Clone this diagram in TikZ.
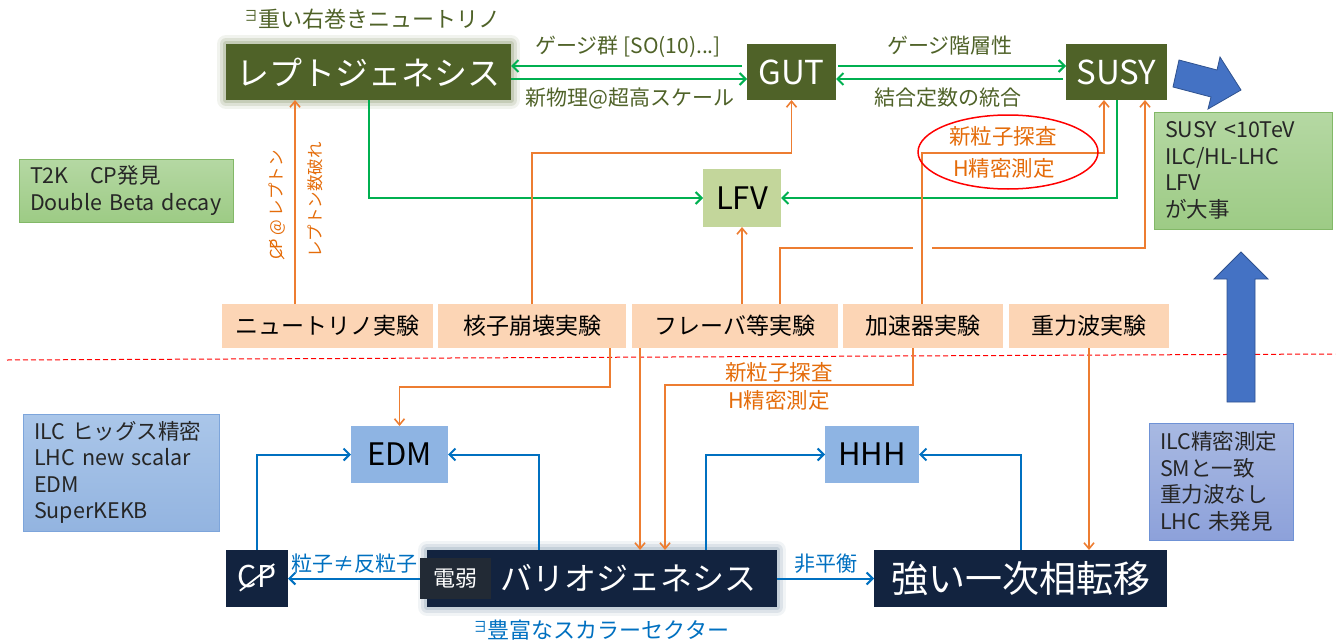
\documentclass[tikz,border=0pt]{standalone}
\usepackage{fontspec}
\setmainfont{Noto Sans CJK JP}
\usepackage{graphicx}
\usetikzlibrary{arrows.meta,shapes.geometric}

\definecolor{cOlive}{HTML}{4F6228}
\definecolor{cOliveGlow}{HTML}{8E9A72}
\definecolor{cGreen}{HTML}{00B050}
\definecolor{cLFV}{HTML}{C3D69B}
\definecolor{cOrange}{HTML}{ED7D31}
\definecolor{cOrangeT}{HTML}{E46C0A}
\definecolor{cPeach}{HTML}{FCD5B5}
\definecolor{cEDM}{HTML}{8EB4E3}
\definecolor{cNavy}{HTML}{12233F}
\definecolor{cNavyGlow}{HTML}{8DA2B4}
\definecolor{cDark}{HTML}{222A35}
\definecolor{cBlue}{HTML}{0070C0}
\definecolor{cArrow}{HTML}{4472C4}
\definecolor{cArrowEdge}{HTML}{2F528F}
\definecolor{cGreenTop}{HTML}{B5D8A3}
\definecolor{cGreenBot}{HTML}{9DCB85}
\definecolor{cGreenEdge}{HTML}{82B867}
\definecolor{cBlueTop}{HTML}{AAC6E9}
\definecolor{cBlueBot}{HTML}{93B4E0}
\definecolor{cBlueEdge}{HTML}{7DA5DB}
\definecolor{cLavTop}{HTML}{A8B9E2}
\definecolor{cLavBot}{HTML}{8DA1DA}
\definecolor{cLavEdge}{HTML}{6F92D6}

\newcommand\fsz[1]{\fontsize{#1}{#1}\selectfont}
\newcommand\thereis{{\fsz{15}\raisebox{6pt}{∃}}}
\newcommand\notcp{\ooalign{CP\cr\hidewidth\raisebox{-.12em}{\rotatebox{38}{\rule{1.45em}{.06em}}}\hidewidth\cr}}

\begin{document}
\begin{tikzpicture}[x=1pt,y=-1pt,
  box/.style={inner sep=0pt,outer sep=0pt,minimum height=56pt},
  olivebox/.style={box,fill=cOlive,text=white,font=\fsz{33}},
  glowolive/.style={preaction={draw=cOliveGlow,line join=round,line width=18pt,opacity=.12},
    preaction={draw=cOliveGlow,line join=round,line width=12pt,opacity=.2},
    preaction={draw=cOliveGlow,line join=round,line width=6pt,opacity=.3}},
  navybox/.style={box,fill=cNavy,text=white,font=\fsz{32},minimum height=57pt},
  glownavy/.style={preaction={draw=cNavyGlow,line join=round,line width=18pt,opacity=.12},
    preaction={draw=cNavyGlow,line join=round,line width=12pt,opacity=.2},
    preaction={draw=cNavyGlow,line join=round,line width=6pt,opacity=.3}},
  expbox/.style={box,fill=cPeach,minimum height=44pt,font=\fsz{23}},
  keybox/.style={box,fill=cEDM,minimum height=57pt,font=\fsz{31}},
  info/.style={draw,line width=1pt,inner xsep=11pt,inner ysep=0pt,outer sep=0pt,
    align=left,text=black!85,font=\fontsize{21.5}{26.5}\selectfont},
  olabel/.style={text=cOlive,font=\fsz{21},inner sep=1pt},
  orlabel/.style={text=cOrangeT,font=\fsz{21.5},inner sep=1pt},
  bllabel/.style={text=cBlue,font=\fsz{21},inner sep=1pt},
  garrow/.style={draw=cGreen,line width=2pt,-{Straight Barb[length=6pt,width=12pt]}},
  oarrow/.style={draw=cOrange,line width=1.6pt,-{Straight Barb[length=6pt,width=10pt]}},
  barrow/.style={draw=cBlue,line width=2pt,-{Straight Barb[length=6pt,width=12pt]}},
  bigarrow/.style={fill=cArrow,draw=cArrowEdge,line width=.8pt}]

  \useasboundingbox (0,0) rectangle (1340,642);

  \draw[red,dash pattern=on 5pt off 3pt,line width=1pt] (7,360) -- (1335,354);

  % upper row
  \node[olivebox,glowolive,minimum width=285pt] (lept) at (368.5,72) {レプトジェネシス};
  \node[olivebox,minimum width=89pt] (gut) at (791.5,72) {GUT};
  \node[olivebox,minimum width=101pt] (susy) at (1116.5,72) {SUSY};
  \node[olabel,font=\fsz{22}] (heavynu) at (372,19) {\thereis 重い右巻きニュートリノ};
  \node[keybox,fill=cLFV,minimum width=78pt,minimum height=58pt] (lfv) at (742,198) {LFV};

  \foreach \nm/\cx/\w/\txt in {nu/327.5/211/ニュートリノ実験, nuc/532/188/核子崩壊実験,
      flv/735/206/フレーバ等実験, acc/923/160/加速器実験, grav/1089/160/重力波実験}
    \node[expbox,minimum width=\w pt] (\nm) at (\cx,326) {\txt};

  % lower row
  \node[keybox,minimum width=97pt] (edm) at (399.5,454.5) {EDM};
  \node[keybox,minimum width=94pt] (hhh) at (872,454.5) {HHH};
  \node[navybox,minimum width=62pt,font=\fsz{30}] (cp) at (257,578.5) {\notcp};
  \node[navybox,glownavy,minimum width=350pt] (baryo) at (602,578.5) {\hspace*{52pt}バリオジェネシス};
  \node[box,fill=cDark,text=white,minimum width=71pt,minimum height=41pt,font=\fsz{22}] (ew) at (455.5,578.5) {電弱};
  \node[navybox,minimum width=293pt,font=\fsz{37}] (strong) at (1020.5,578.5) {強い一次相転移};
  \node[bllabel,font=\fsz{22}] (scalar) at (601,630) {\thereis 豊富なスカラーセクター};

  % side notes
  \node[info,draw=cGreenEdge,top color=cGreenTop,bottom color=cGreenBot,text width=192pt,minimum height=63pt] (t2k) at (126,190.5) {T2K　CP発見\\Double Beta decay};
  \node[info,draw=cGreenEdge,top color=cGreenTop,bottom color=cGreenBot,text width=156pt,minimum height=117pt] (susynote) at (1243,170.5) {SUSY <10TeV\\ILC/HL-LHC\\LFV\\が大事};
  \node[info,draw=cBlueEdge,top color=cBlueTop,bottom color=cBlueBot,text width=174pt,minimum height=117pt] (ilcnote) at (121,472.5) {ILC ヒッグス精密\\LHC new scalar\\EDM\\SuperKEKB};
  \node[info,draw=cLavEdge,top color=cLavTop,bottom color=cLavBot,text width=122pt,minimum height=117pt] (smnote) at (1221,481.5) {ILC精密測定\\SMと一致\\重力波なし\\LHC 未発見};

  \draw[bigarrow] (1227,402) -- (1227,279) -- (1214,279) -- (1241,252) -- (1268,279) -- (1255,279) -- (1255,402) -- cycle;
  \draw[bigarrow] (1179,60) -- (1217,70) -- (1220,57) -- (1241,90) -- (1208,109) -- (1211,97) -- (1173,87) -- cycle;

  % green
  \draw[garrow] ([xshift=-5pt,yshift=6pt]gut.west) -- ([yshift=6pt]lept.east);
  \draw[garrow] ([yshift=-7pt]lept.east) -- ([yshift=-7pt]gut.west);
  \draw[garrow] ([xshift=2pt,yshift=6pt]gut.east) -- ([yshift=6pt]susy.west);
  \draw[garrow] ([xshift=-3pt,yshift=-7pt]susy.west) -- ([yshift=-7pt]gut.east);
  \draw[garrow] (lept.south) |- (lfv.west);
  \draw[garrow] (susy.south) |- (lfv.east);
  \node[olabel] (gauge) at (628,47) {ゲージ群 [SO(10)...]};
  \node[olabel] (newphys) at (630,98) {新物理@超高スケール};
  \node[olabel] (hier) at (950,46) {ゲージ階層性};
  \node[olabel] (unify) at (948,98) {結合定数の統合};

  % orange, upwards
  \draw[oarrow] (nu.north -| 295,0) -- (lept.south -| 295,0);
  \node[orlabel,font=\fsz{16.5},rotate=90] (cplep) at (277,205) {\notcp\ @ レプトン};
  \node[orlabel,font=\fsz{16.5},rotate=90] (lnv) at (315,200) {レプトン数破れ};
  \draw[oarrow] (nuc.north) |- (gut.south |- 0,153) -- (gut.south);
  \draw[oarrow] (lfv.south |- flv.north) -- (lfv.south);
  \draw[oarrow] (flv.north -| 780,0) |- (1145,248) -- (susy.south -| 1145,0);
  \fill[white] (913,245) rectangle (932,251);
  \draw[oarrow] (acc.north -| 922,0) |- (1104,153) -- (susy.south -| 1104,0);
  \node[draw=red,line width=1.5pt,ellipse,minimum width=180pt,minimum height=74pt,inner sep=0pt] (probe) at (1008,152) {};
  \node[orlabel] (probeA) at (1003,136) {新粒子探査};
  \node[orlabel] (probeB) at (1004,168) {H精密測定};

  % orange, downwards
  \draw[oarrow] (nuc.south -| 610,0) |- (edm.north |- 0,387) -- (edm.north);
  \draw[oarrow] (flv.south -| 640,0) -- (baryo.north -| 640,0);
  \draw[oarrow] (acc.south -| 913,0) |- (665,385) -- (baryo.north -| 665,0);
  \draw[oarrow] (grav.south) -- (grav.south |- strong.north);
  \node[orlabel] (probeC) at (779,372) {新粒子探査};
  \node[orlabel] (probeD) at (779,400) {H精密測定};

  % blue
  \draw[barrow] (cp.north) |- (edm.west);
  \draw[barrow] (baryo.north -| 539,0) |- (edm.east);
  \draw[barrow] (baryo.north -| 706,0) |- (hhh.west);
  \draw[barrow] (strong.north) |- (hhh.east);
  \draw[barrow] (ew.west) -- (cp.east) node[bllabel,midway,above=3pt] (anti) {粒子≠反粒子};
  \draw[barrow] (baryo.east) -- (strong.west) node[bllabel,midway,above=3pt] (noneq) {非平衡};
\end{tikzpicture}
\end{document}
